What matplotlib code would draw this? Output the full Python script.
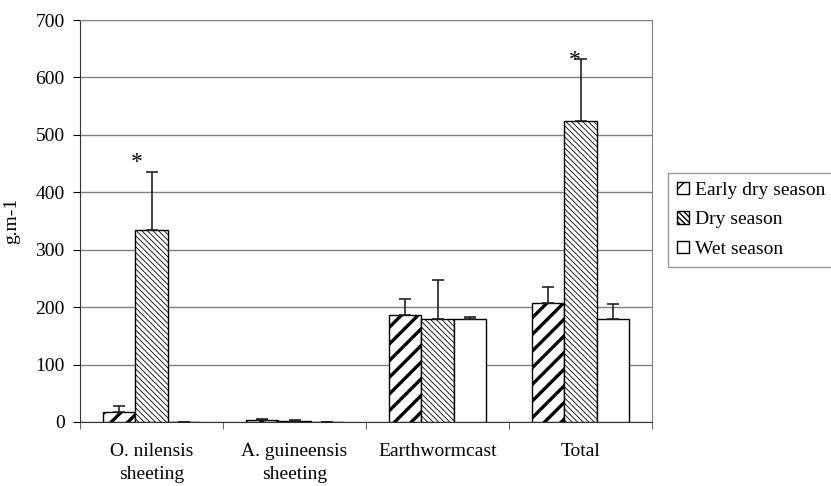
import numpy as np
import matplotlib
matplotlib.use("Agg")
import matplotlib.pyplot as plt

categories = ["O. nilensis\nsheeting", "A. guineensis\nsheeting", "Earthwormcast", "Total"]
seasons = ["Early dry season", "Dry season", "Wet season"]

early_dry = [18, 3, 186, 208]
early_dry_err = [9, 2, 28, 27]
dry = [334, 2, 179, 525]
dry_err = [101, 1, 68, 107]
wet = [0, 0, 179, 179]
wet_err = [0, 0, 3, 27]

# categories marked as significant (asterisk over the dry season bar)
starred = [0, 3]

plt.rcParams["font.family"] = ["Liberation Serif", "DejaVu Serif"]
plt.rcParams["font.size"] = 14

fig = plt.figure(figsize=(8.31, 4.86), dpi=100)
ax = fig.add_axes([0.0963, 0.1317, 0.6883, 0.8271])

x = np.arange(len(categories))
w = 0.225

series = [
    (early_dry, early_dry_err, "//", 2.4),
    (dry, dry_err, "\\" * 6, 0.6),
    (wet, wet_err, "", 1.0),
]
for i, (vals, errs, hatch, hlw) in enumerate(series):
    plt.rcParams["hatch.linewidth"] = hlw
    pos = x + (i - 1) * w
    ax.bar(pos, vals, w, facecolor="white", edgecolor="black", linewidth=1.0,
           hatch=hatch, label=seasons[i], zorder=3)
    ax.errorbar(pos, vals, yerr=[np.zeros(len(vals)), errs], fmt="none",
                ecolor="#222222", elinewidth=1.2, capsize=4, capthick=1.2, zorder=4)

star_dx = [-0.1, -0.04]
star_dy = [-1, -20]
for k, i in enumerate(starred):
    ax.text(x[i] + star_dx[k], dry[i] + dry_err[i] + star_dy[k], "*",
            ha="center", va="bottom", fontsize=17, zorder=5)

ax.set_xlim(-0.5, len(categories) - 0.5)
ax.set_ylim(0, 700)
ax.set_yticks(np.arange(0, 701, 100))
ax.yaxis.grid(True, color="#808080", linewidth=1.0, zorder=0)
ax.set_axisbelow(True)

ax.set_xticks(x)
ax.set_xticklabels(categories, linespacing=1.45)
ax.tick_params(axis="x", which="major", length=0, pad=15, labelsize=14)
ax.set_xticks(np.arange(-0.5, len(categories)), minor=True)
ax.tick_params(axis="x", which="minor", length=5, direction="out", color="#444444")
ax.tick_params(axis="y", length=5, direction="out", labelsize=14, pad=6)

for s in ["top", "right"]:
    ax.spines[s].set_color("#808080")
ax.spines["left"].set_color("#333333")
ax.spines["bottom"].set_color("#333333")

ax.set_ylabel("g.m-1", fontsize=14)
ax.yaxis.set_label_coords(-0.105, 0.5)

fig.legend(loc="upper left", bbox_to_anchor=(0.804, 0.644), frameon=True,
           fancybox=False, edgecolor="#808080", handlelength=0.6, handleheight=0.6,
           handletextpad=0.35, fontsize=14, borderpad=0.45, labelspacing=0.65,
           borderaxespad=0)

fig.savefig("out.png", dpi=100)
